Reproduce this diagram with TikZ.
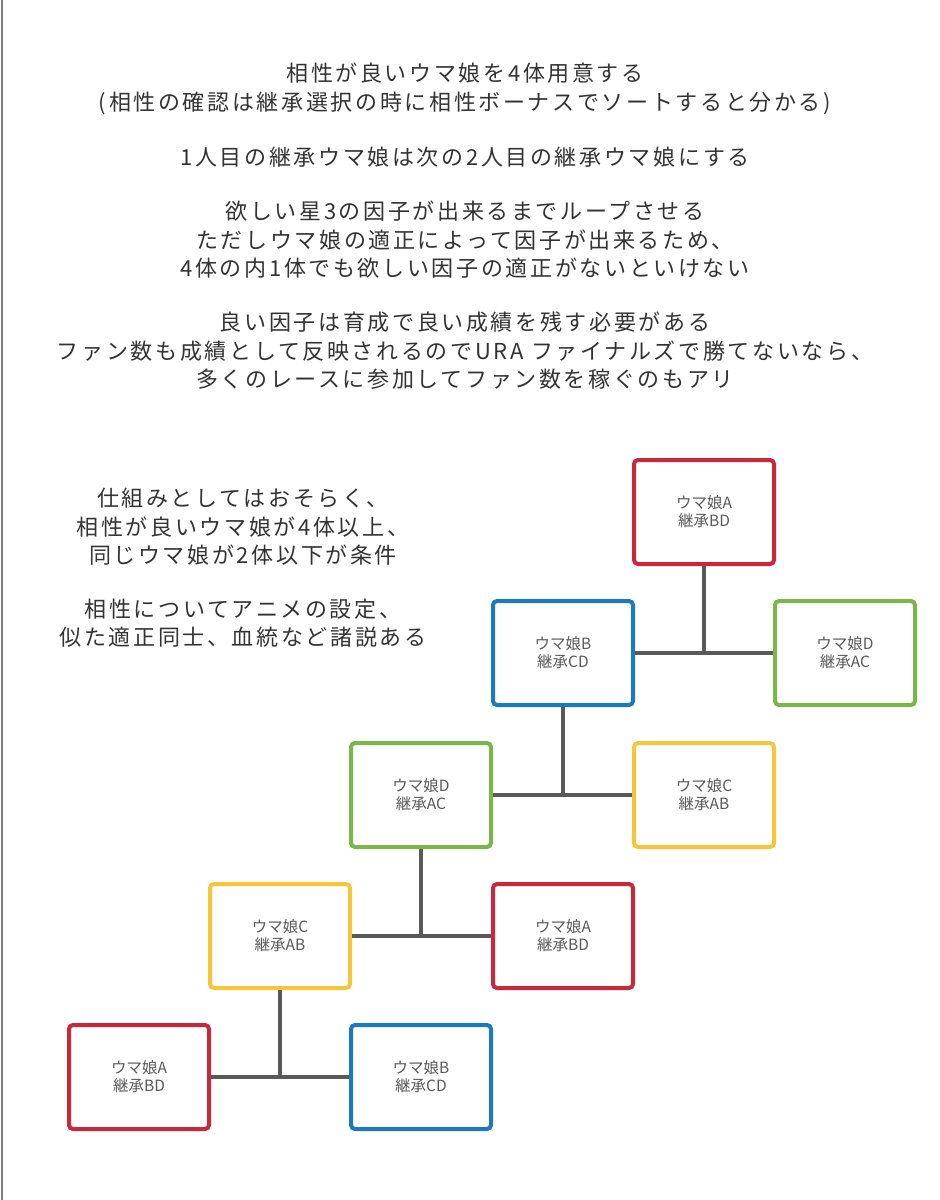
\documentclass[tikz,border=0pt]{standalone}
\usepackage{fontspec}
\setmainfont{Noto Sans CJK JP}[LetterSpace=12]
\newfontfamily\boxfont{Noto Sans CJK JP}
\begin{document}
\begin{tikzpicture}[x=1pt,y=-1pt,
  umabox/.style={draw=#1,line width=4pt,rounded corners=4pt,minimum width=140pt,minimum height=104pt,fill=white,align=center,font=\boxfont\fontsize{15.5}{18}\selectfont,text=black!65},
  link/.style={draw=black!65,line width=4.5pt},
  txt/.style={align=center,text=black!80,font=\fontsize{22}{28.5}\selectfont}]
\useasboundingbox (0,0) rectangle (940,1200);
\draw[black!50,line width=2pt] (1.5,0) -- (1.5,1200);
\node[txt] (t1) at (465,89) {相性が良いウマ娘を4体用意する\\(相性の確認は継承選択の時に相性ボーナスでソートすると分かる)};
\node[txt] (t2) at (465,157) {1人目の継承ウマ娘は次の2人目の継承ウマ娘にする};
\node[txt] (t3) at (465,240) {欲しい星3の因子が出来るまでループさせる\\ただしウマ娘の適正によって因子が出来るため、\\4体の内1体でも欲しい因子の適正がないといけない};
\node[txt] (t4) at (465,351) {良い因子は育成で良い成績を残す必要がある\\ファン数も成績として反映されるのでURA ファイナルズで勝てないなら、\\多くのレースに参加してファン数を稼ぐのもアリ};
\node[txt] (t5) at (243,527) {仕組みとしてはおそらく、\\相性が良いウマ娘が4体以上、\\同じウマ娘が2体以下が条件};
\node[txt] (t6) at (243,623) {相性についてアニメの設定、\\似た適正同士、血統など諸説ある};
\definecolor{cr}{HTML}{C8283A}\definecolor{cb}{HTML}{1A7ABF}
\definecolor{cg}{HTML}{7AB648}\definecolor{cy}{HTML}{F7C53A}
\node[umabox=cr] (a1) at (704,512) {ウマ娘A\\継承BD};
\node[umabox=cb] (b1) at (563,653) {ウマ娘B\\継承CD};
\node[umabox=cg] (d1) at (845,653) {ウマ娘D\\継承AC};
\node[umabox=cg] (d2) at (421,795) {ウマ娘D\\継承AC};
\node[umabox=cy] (c1) at (704,795) {ウマ娘C\\継承AB};
\node[umabox=cy] (c2) at (280,936) {ウマ娘C\\継承AB};
\node[umabox=cr] (a2) at (563,936) {ウマ娘A\\継承BD};
\node[umabox=cr] (a3) at (139,1077) {ウマ娘A\\継承BD};
\node[umabox=cb] (b2) at (421,1077) {ウマ娘B\\継承CD};
\foreach \p/\l/\r in {a1/b1/d1,b1/d2/c1,d2/c2/a2,c2/a3/b2}{
  \draw[link] (\l.east) -- (\r.west);
  \draw[link] (\p.south) -- (\p.south |- \l.east);
}
\end{tikzpicture}
\end{document}
